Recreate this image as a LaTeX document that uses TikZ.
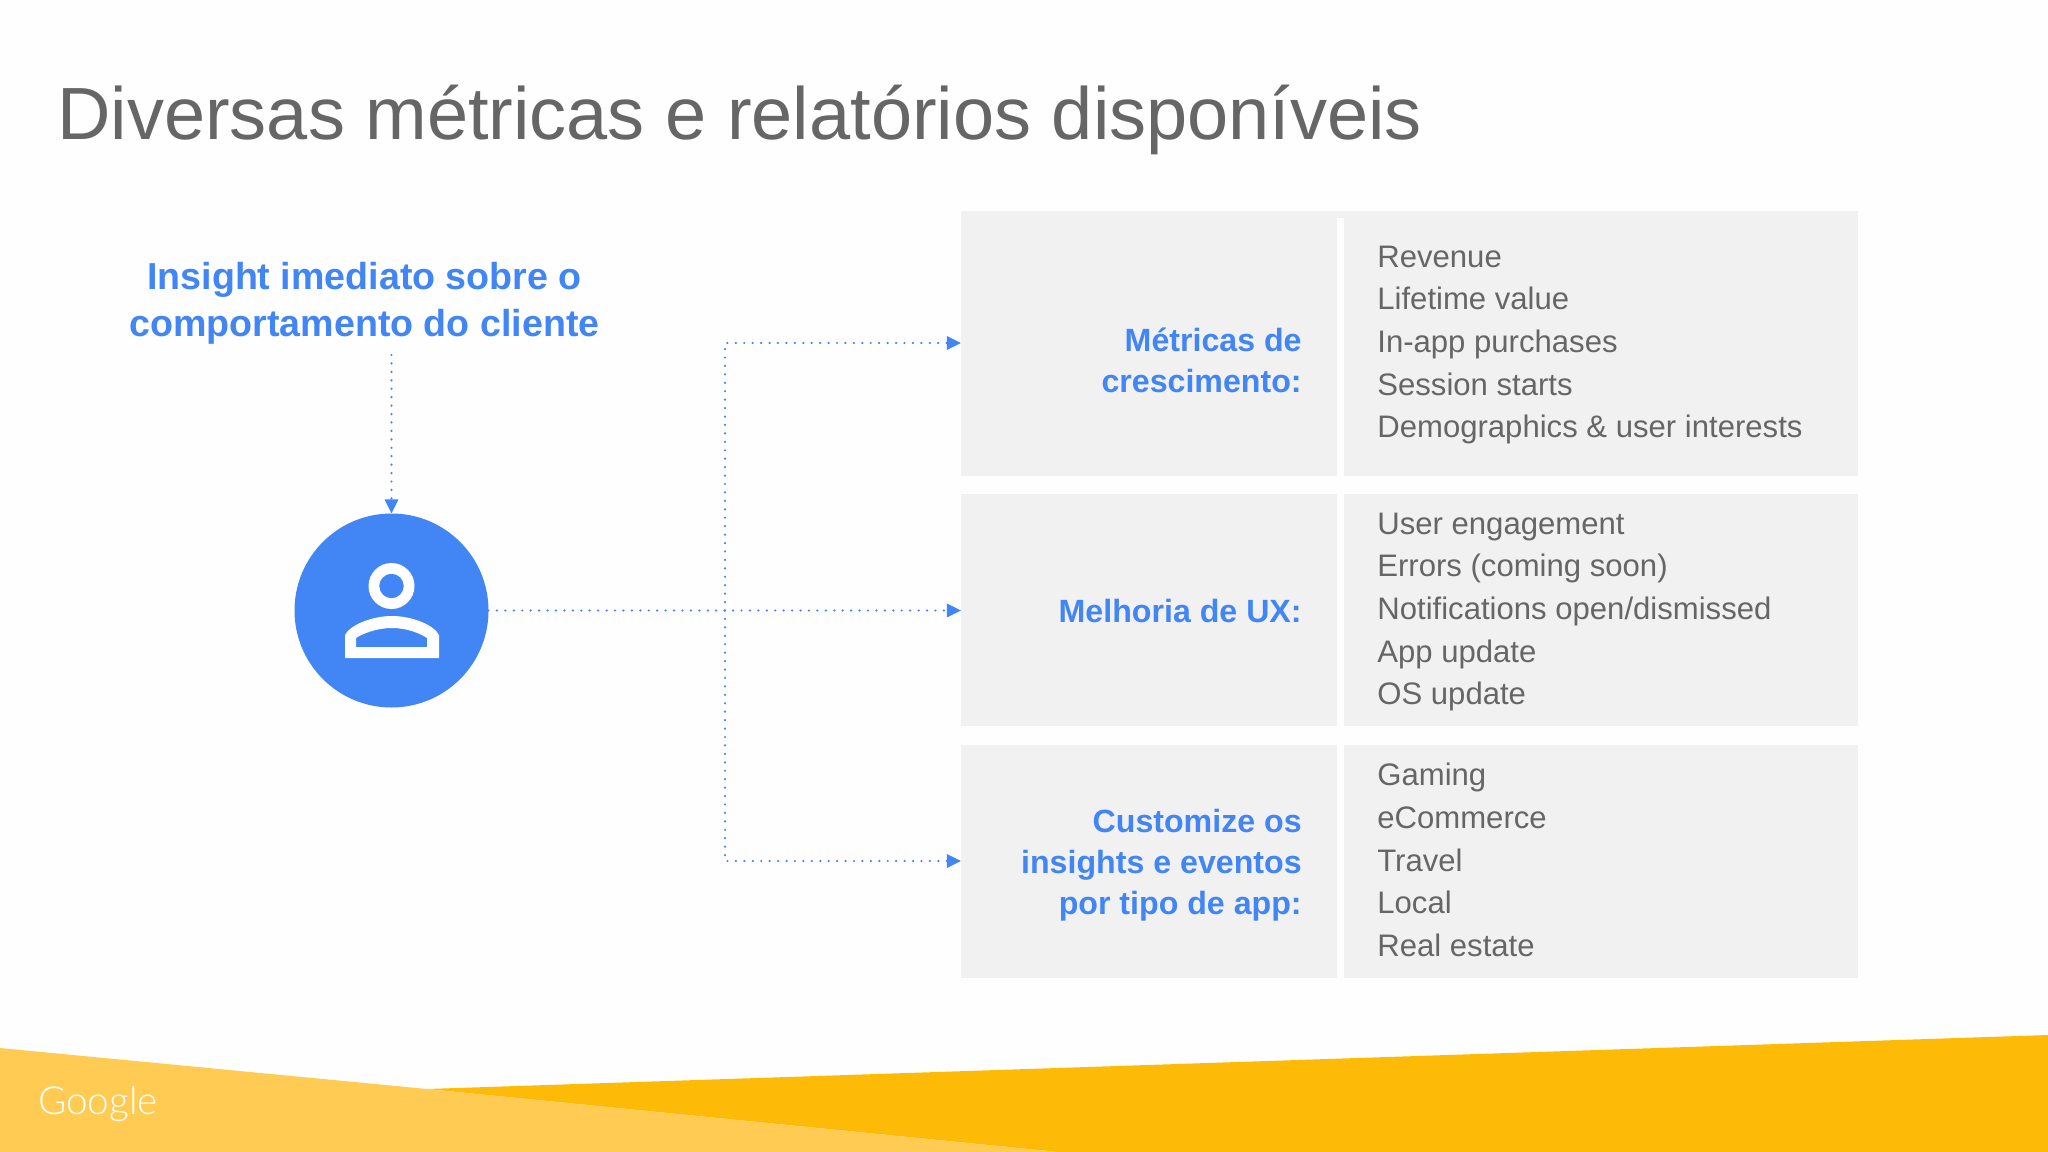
\documentclass[tikz,border=0pt]{standalone}
\usepackage{fontspec}
\setmainfont{Liberation Sans}
\newfontfamily\logofont{Lato Light}
\usetikzlibrary{arrows.meta}
\usetikzlibrary{positioning}
\definecolor{gblue}{HTML}{4285F4}
\definecolor{boxgray}{HTML}{F1F1F2}
\definecolor{textgray}{HTML}{666666}
\definecolor{sunlight}{HTML}{FFCB52}
\definecolor{sundark}{HTML}{FDBB08}
\tikzset{
  % grey panels, sized in the picture's units
  panel/.style={fill=boxgray,inner sep=0pt,outer sep=0pt},
  headtext/.style={text=gblue,font=\bfseries\fontsize{18.3}{23.2}\selectfont,align=right,anchor=east,inner sep=0pt},
  listtext/.style={text=textgray,font=\fontsize{17.7}{24.3}\selectfont,align=left,anchor=west,inner sep=0pt},
  link/.style={draw=gblue,line width=1.4pt,line cap=round,dash pattern=on 0pt off 4.8pt,
    -{Triangle[length=8pt,width=7.5pt,fill=gblue]}},
}
\begin{document}
\begin{tikzpicture}[x=0.02cm,y=-0.02cm]
\useasboundingbox (0,0) rectangle (2048,1152);
\fill[white!99.5!black] (0,0) rectangle (2048,1152);

% yellow band at the bottom
\fill[sundark] (427,1089) -- (2048,1035) -- (2048,1152) -- (1058,1152) -- cycle;
\fill[sunlight] (0,1048) -- (427,1089) -- (1058,1152) -- (0,1152) -- cycle;
\node[text=white,font=\logofont\fontsize{22}{22}\selectfont,inner sep=0pt] (logo) at (98,1104) {Google};

% title
\node[text=textgray,font=\fontsize{42.1}{50}\selectfont,anchor=base west,inner sep=0pt] (title) at (57,140) {Diversas métricas e relatórios disponíveis};

% panels
\fill[boxgray] (961,211) rectangle (1858,218);
\path[panel] (961,211) rectangle (1337,476) node[midway,name=headA] {};
\path[panel] (961,494) rectangle (1337,726) node[midway,name=headB] {};
\path[panel] (961,745) rectangle (1337,978) node[midway,name=headC] {};
\fill[boxgray] (1344,211) rectangle (1858,476);
\fill[boxgray] (1344,494) rectangle (1858,726);
\fill[boxgray] (1344,745) rectangle (1858,978);

\node[headtext] (growth) at (1302,360) {Métricas de\\crescimento:};
\node[headtext] (ux) at (1302,611) {Melhoria de UX:};
\node[headtext] (custom) at (1302,865) {Customize os\\insights e eventos\\por tipo de app:};

\node[listtext] (listA) at (1377,345) {Revenue\\Lifetime value\\In-app purchases\\Session starts\\Demographics \& user interests};
\node[listtext] (listB) at (1377,612) {User engagement\\Errors (coming soon)\\Notifications open/dismissed\\App update\\OS update};
\node[listtext] (listC) at (1377,860) {Gaming\\eCommerce\\Travel\\Local\\Real estate};

% left side
\node[text=gblue,font=\bfseries\fontsize{21.4}{26.8}\selectfont,align=center,inner sep=0pt] (insight) at (364.5,303) {Insight imediato sobre o\\comportamento do cliente};
\node[circle,fill=gblue,minimum size=194*0.02cm,inner sep=0pt,outer sep=0pt] (user) at (391.5,610.5) {};
\fill[white,even odd rule] (391.5,586) circle (23) (391.5,586) circle (12.3);
\fill[white,even odd rule]
  (345,658) -- (345,635) .. controls (350,625) and (372,616) .. (392,616) .. controls (412,616) and (434,625) .. (439,635) -- (439,658) -- cycle
  (356,647) -- (356,638) .. controls (362,634) and (376,628) .. (392,628) .. controls (408,628) and (421,634) .. (427,638) -- (427,647) -- cycle;

% connectors
\coordinate (foot) at (391.5,355);
\coordinate (branch) at (725,610.5);
\draw[link] (foot) -- (user.north);
\draw[link] (user.east) -- (961,610.5);
\draw[link] (branch) |- (961,343);
\draw[link] (branch) |- (961,861);
\end{tikzpicture}
\end{document}
